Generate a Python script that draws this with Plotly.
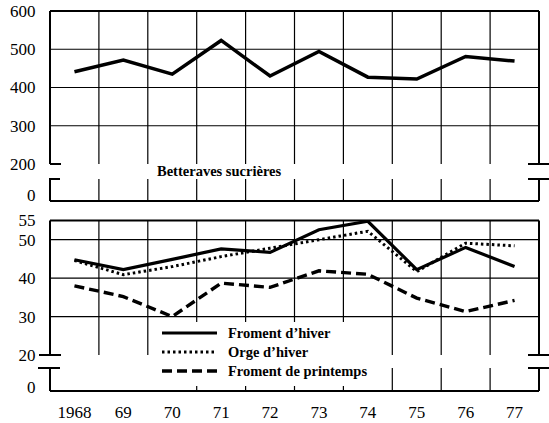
import plotly.graph_objects as go
from plotly.subplots import make_subplots

# ---------------- data ----------------
years = ["1968", "1969", "1970", "1971", "1972", "1973", "1974", "1975", "1976", "1977"]
year_labels = ["1968", "69", "70", "71", "72", "73", "74", "75", "76", "77"]

betteraves = [441, 472, 435, 523, 430, 494, 427, 422, 481, 469]
froment_hiver = [44.8, 42.2, 44.9, 47.6, 46.7, 52.6, 54.8, 42.2, 48.0, 43.0]
orge_hiver = [44.6, 40.9, 43.0, 45.6, 47.8, 50.0, 52.2, 41.7, 49.1, 48.4]
froment_printemps = [38.0, 35.2, 30.0, 38.7, 37.6, 41.9, 41.0, 34.8, 31.3, 34.2]

top_ticks = ["0", "200", "300", "400", "500", "600"]
bottom_ticks = ["0", "20", "30", "40", "50", "55"]

series_names = ["Froment d\u2019hiver", "Orge d\u2019hiver", "Froment de printemps"]
top_title = "Betteraves sucrières"

# ---------------- geometry (pixels) ----------------
W, H = 549, 423
L, R = 50, 539          # plot left / right edges
T, B = 11, 391          # plot top / bottom edges
PW, PH = R - L, B - T

def px_x(p):
    return (p - L) / PW

def px_y(p):
    return (B - p) / PH

# top panel: 600 at y=11, 200 at y=164, axis bottom at y=201
top_scale = (164 - 11) / 400.0
top_min = 200 - (201 - 164) / top_scale
# bottom panel: 55 at y=220.5, 20 at y=355, axis bottom at y=391
bot_scale = (355 - 220.5) / 35.0
bot_min = 20 - (391 - 355) / bot_scale

top_dom = [px_y(201), 1.0]
bot_dom = [0.0, px_y(220.5)]

def ty(v):  # top panel value -> paper
    return top_dom[0] + (v - top_min) / (600 - top_min) * (top_dom[1] - top_dom[0])

def by(v):  # bottom panel value -> paper
    return bot_dom[0] + (v - bot_min) / (55 - bot_min) * (bot_dom[1] - bot_dom[0])

fig = make_subplots(rows=2, cols=1, shared_xaxes=False, vertical_spacing=0.05)

serif = "Liberation Serif, Times New Roman, serif"

fig.add_trace(go.Scatter(x=years, y=betteraves, mode="lines",
                         line=dict(color="black", width=3.5), showlegend=False), row=1, col=1)
fig.add_trace(go.Scatter(x=years, y=froment_hiver, mode="lines", name=series_names[0],
                         line=dict(color="black", width=3.2), showlegend=False), row=2, col=1)
fig.add_trace(go.Scatter(x=years, y=orge_hiver, mode="lines", name=series_names[1],
                         line=dict(color="black", width=3, dash="2.5px,3px"), showlegend=False), row=2, col=1)
fig.add_trace(go.Scatter(x=years, y=froment_printemps, mode="lines", name=series_names[2],
                         line=dict(color="black", width=3.4, dash="10px,5px"), showlegend=False), row=2, col=1)

shapes = []
def seg(x0, y0, x1, y1, w=1.2, layer="below"):
    shapes.append(dict(type="line", xref="paper", yref="paper", x0=x0, y0=y0, x1=x1, y1=y1,
                       line=dict(color="black", width=w), layer=layer))

# --- top panel ---
top_break = 200 - (179 - 164) / top_scale
for v in [300, 400, 500]:
    seg(0, ty(v), 1, ty(v), 1.2)
for k in range(1, 10):
    seg(k / 10, ty(200), k / 10, ty(600), 1.2)
    seg(k / 10, ty(top_min), k / 10, ty(top_break), 1.2)

# --- bottom panel ---
bot_break = 20 - (368 - 355) / bot_scale
for v in [30, 40, 50]:
    seg(0, by(v), 1, by(v), 1.2)
for k in range(1, 10):
    seg(k / 10, by(20), k / 10, by(55), 1.2)
    if k >= 3:
        seg(k / 10, by(bot_min), k / 10, by(bot_break), 1.2)

# white box behind the legend (hides grid there)
shapes.append(dict(type="rect", xref="paper", yref="paper",
                   x0=px_x(155), x1=px_x(386), y0=px_y(386), y1=px_y(322),
                   fillcolor="white", line=dict(width=0), layer="below"))

# frames and break marks
seg(0, ty(600), 1, ty(600), 2)
seg(0, ty(200), 0, ty(600), 2)
seg(1, ty(200), 1, ty(600), 2)
seg(0, ty(200), px_x(61), ty(200), 2)
seg(px_x(49), ty(top_break), px_x(60), ty(top_break), 2)
seg(0, ty(top_min), 0, ty(top_break), 2)
seg(1, ty(top_min), 1, ty(top_break), 2)
seg(px_x(528), ty(200), px_x(549), ty(200), 2)
seg(px_x(528), ty(top_break), px_x(549), ty(top_break), 2)
seg(0, ty(top_min), 1, ty(top_min), 2.2)

seg(0, by(55), 1, by(55), 2)
seg(0, by(20), 0, by(55), 2)
seg(1, by(20), 1, by(55), 2)
seg(px_x(39), by(20), px_x(61), by(20), 2)
seg(px_x(38), by(bot_break), px_x(60), by(bot_break), 2)
seg(0, by(bot_min), 0, by(bot_break), 2)
seg(1, by(bot_min), 1, by(bot_break), 2)
seg(px_x(528), by(20), px_x(549), by(20), 2)
seg(px_x(528), by(bot_break), px_x(549), by(bot_break), 2)
seg(0, by(bot_min), 1, by(bot_min), 2.2)

# --- legend (manual) ---
styles = [dict(width=3.2), dict(width=3, dash="2.5px,3px"), dict(width=3.4, dash="10px,5px")]
rows_y = [333, 352, 371]
annotations = []
for name, st, ry in zip(series_names, styles, rows_y):
    shapes.append(dict(type="line", xref="paper", yref="paper",
                       x0=px_x(162), x1=px_x(217), y0=px_y(ry), y1=px_y(ry),
                       line=dict(color="black", **st)))
    annotations.append(dict(text="<b>" + name + "</b>", xref="paper", yref="paper",
                            x=px_x(226), y=px_y(ry), xanchor="left", yanchor="middle",
                            showarrow=False, font=dict(family=serif, size=14.5, color="black")))

annotations.append(dict(text="<b>" + top_title + "</b>", xref="paper", yref="paper",
                        x=px_x(155), y=px_y(171), xanchor="left", yanchor="middle",
                        showarrow=False, font=dict(family=serif, size=14.5, color="black")))

fig.update_layout(
    width=W, height=H,
    margin=dict(l=L, r=W - R, t=T, b=H - B, autoexpand=False),
    paper_bgcolor="white", plot_bgcolor="white",
    showlegend=False, hovermode=False,
    shapes=shapes, annotations=annotations,
    font=dict(family=serif, color="black"),
)

fig.update_xaxes(type="category", range=[-0.5, 9.5], showgrid=False, zeroline=False,
                 showline=False, domain=[0, 1], automargin=False)
fig.update_xaxes(showticklabels=False, ticks="", row=1, col=1)
fig.update_xaxes(tickmode="array", tickvals=years, ticktext=year_labels,
                 tickfont=dict(family=serif, size=17, color="black"),
                 ticks="outside", ticklen=6, tickcolor="rgba(0,0,0,0)", row=2, col=1)

fig.update_yaxes(domain=top_dom, range=[top_min, 600], showgrid=False, zeroline=False,
                 showline=False, ticks="outside", ticklen=10, tickcolor="rgba(0,0,0,0)",
                 tickmode="array", automargin=False,
                 tickvals=[top_min + 15, 200, 300, 400, 500, 600], ticktext=top_ticks,
                 tickfont=dict(family=serif, size=17, color="black"), row=1, col=1)
fig.update_yaxes(domain=bot_dom, range=[bot_min, 55], showgrid=False, zeroline=False,
                 showline=False, ticks="outside", ticklen=10, tickcolor="rgba(0,0,0,0)",
                 tickmode="array", automargin=False,
                 tickvals=[bot_min + 1, 20, 30, 40, 50, 55], ticktext=bottom_ticks,
                 tickfont=dict(family=serif, size=17, color="black"), row=2, col=1)

fig.write_html(
    "out.html",
    config={"displayModeBar": False},
    post_script="document.body.style.margin='0';document.body.style.overflow='hidden';",
)
